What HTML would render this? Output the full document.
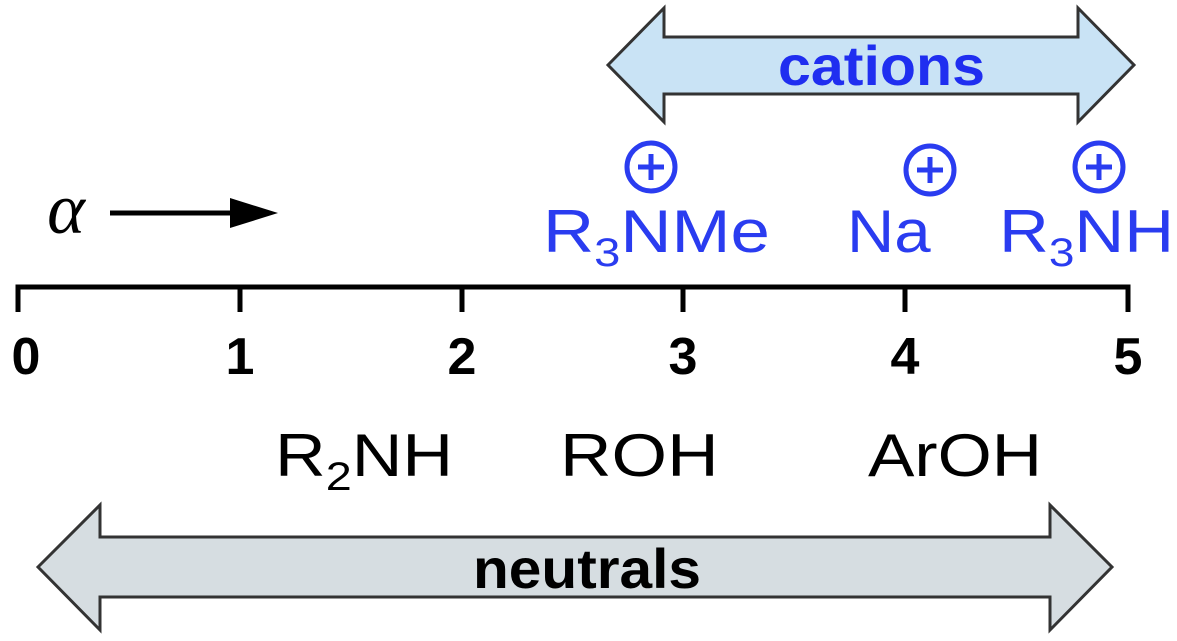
<html><body style="margin:0;background:#fff">
<svg width="1177" height="641" xmlns="http://www.w3.org/2000/svg" font-family="Liberation Sans, sans-serif">
<polygon points="608,65 664,8 664,37 1078,37 1078,8 1134,65 1078,122 1078,94 664,94 664,122" fill="#c9e3f5" stroke="#333" stroke-width="3"/>
<text x="778" y="85" font-size="56" font-weight="bold" fill="#1f2ef0" textLength="207" lengthAdjust="spacingAndGlyphs">cations</text>
<polygon points="38,567 100,505 100,537 1050,537 1050,505 1112,567 1050,630 1050,597 100,597 100,630" fill="#d6dde1" stroke="#333" stroke-width="3"/>
<text x="473" y="588" font-size="56" font-weight="bold" fill="#000" textLength="228" lengthAdjust="spacingAndGlyphs">neutrals</text>
<g stroke="#000" stroke-width="5" fill="none">
<path d="M18,312 V287 H1128 V312"/>
<path d="M240,287V312M462,287V312M683,287V312M905,287V312"/>
</g>
<g font-size="52" font-weight="bold" text-anchor="middle">
<text x="26" y="374">0</text><text x="240" y="374">1</text><text x="462" y="374">2</text><text x="683" y="374">3</text><text x="905" y="374">4</text><text x="1128" y="374">5</text>
</g>
<text x="66" y="233" font-size="72" font-style="italic" font-family="Liberation Serif, serif" text-anchor="middle">α</text>
<line x1="110" y1="213" x2="240" y2="213" stroke="#000" stroke-width="5"/>
<polygon points="230,198 278,213 230,228" fill="#000"/>
<g fill="#2a3cf0" font-size="60">
<text transform="translate(543,252) scale(1.18,1)">R<tspan font-size="40" dy="14">3</tspan><tspan dy="-14">NMe</tspan></text>
<text transform="translate(847,252) scale(1.09,1)">Na</text>
<text transform="translate(999,252) scale(1.15,1)">R<tspan font-size="40" dy="14">3</tspan><tspan dy="-14">NH</tspan></text>
</g>
<g stroke="#2a3cf0" stroke-width="5" fill="none">
<circle cx="651" cy="167" r="24"/><path d="M638,167h26M651,154v26"/>
<circle cx="930" cy="170" r="24"/><path d="M917,170h26M930,157v26"/>
<circle cx="1099" cy="167" r="24"/><path d="M1086,167h26M1099,154v26"/>
</g>
<g font-size="60" fill="#000">
<text transform="translate(275,476) scale(1.17,1)">R<tspan font-size="40" dy="14">2</tspan><tspan dy="-14">NH</tspan></text>
<text transform="translate(560,476) scale(1.19,1)">ROH</text>
<text transform="translate(868,476) scale(1.16,1)">ArOH</text>
</g>
</svg>
</body></html>
